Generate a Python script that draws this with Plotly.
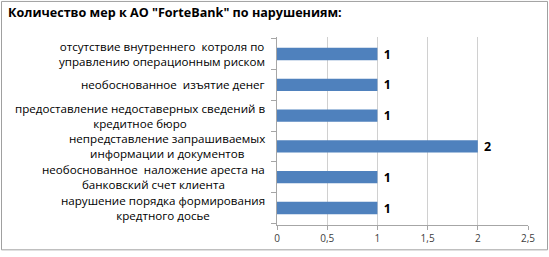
import plotly.graph_objects as go

categories = [
    "отсутствие внутреннего  котроля по<br>управлению операционным риском",
    "необоснованное  изъятие денег",
    "предоставление недоставерных сведений в<br>кредитное бюро",
    "непредставление запрашиваемых<br>информации и документов",
    "необоснованное  наложение ареста на<br>банковский счет клиента",
    "нарушение порядка формирования<br>кредтного досье",
]
values = [1, 1, 1, 2, 1, 1]
x_ticks = [0, 0.5, 1, 1.5, 2, 2.5]
title_text = "Количество мер к АО \"ForteBank\" по нарушениям:"

FONT = "Open Sans"

fig = go.Figure()
fig.add_trace(go.Bar(
    y=categories,
    x=values,
    orientation="h",
    marker=dict(color="#4F81BD", line=dict(width=0)),
    width=0.4,
    text=[f"\u00a0<b>{v}</b>" for v in values],
    textposition="outside",
    constraintext="none",
    textfont=dict(family=FONT, size=12.5, color="#000000"),
    cliponaxis=False,
    hoverinfo="skip",
))

for c in categories:
    fig.add_annotation(
        x=0, xref="paper", y=c, yref="y",
        text=c, showarrow=False,
        xanchor="right", yanchor="middle", align="center",
        xshift=-10,
        font=dict(family=FONT, size=11.6, color="#000000"),
    )

fig.update_layout(
    width=549, height=257,
    margin=dict(l=277, r=21, t=37, b=27),
    paper_bgcolor="white",
    plot_bgcolor="white",
    separators=", ",
    showlegend=False,
    title=dict(
        text="<b>" + title_text + "</b>",
        x=8 / 549, xref="container", xanchor="left",
        y=1, yref="container", yanchor="top",
        pad=dict(t=8, l=0),
        font=dict(family=FONT, size=12.6, color="#000000"),
    ),
    xaxis=dict(
        range=[0, 2.5],
        tickvals=x_ticks,
        ticks="outside", ticklen=4, tickcolor="#a6a6a6",
        showgrid=True, gridcolor="#d0d0d0", gridwidth=1,
        showline=True, linecolor="#a6a6a6", linewidth=1,
        zeroline=False,
        tickfont=dict(family=FONT, size=10, color="#404040"),
        fixedrange=True,
    ),
    yaxis=dict(
        categoryorder="array",
        categoryarray=categories[::-1],
        showticklabels=False,
        ticks="outside", ticklen=5, tickcolor="#a6a6a6",
        tickson="boundaries",
        showgrid=False,
        showline=True, linecolor="#a6a6a6", linewidth=1,
        zeroline=False,
        fixedrange=True,
    ),
)

# Outer chart frame
fig.add_shape(
    type="rect", xref="paper", yref="paper",
    x0=(1.5 - 277) / 251, x1=(547.5 - 277) / 251,
    y0=(230 - 255.5) / 193, y1=(230 - 0.5) / 193,
    line=dict(color="#a0a0a0", width=1),
    fillcolor="rgba(0,0,0,0)",
    layer="below",
)

fig.write_html("out.html")
